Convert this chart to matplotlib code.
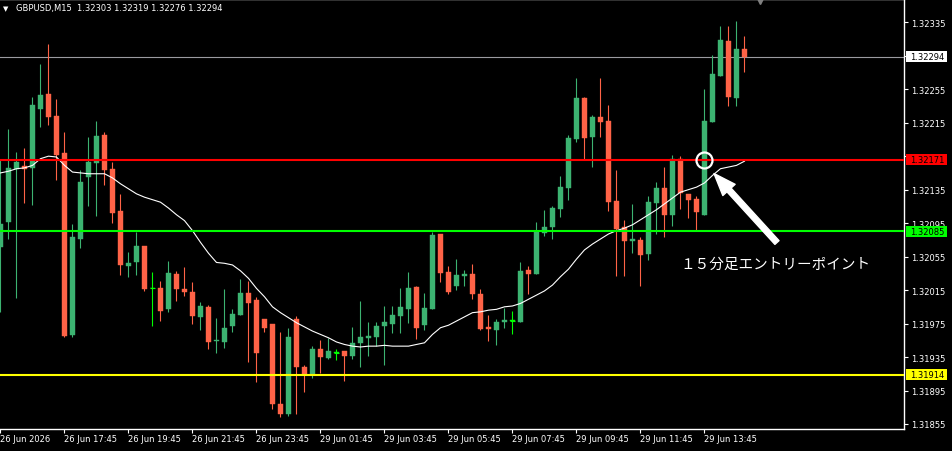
import numpy as np
import matplotlib
matplotlib.use("Agg")
import matplotlib.pyplot as plt
import matplotlib.transforms as mtransforms
from matplotlib.patches import Rectangle

plt.rcParams['font.family'] = ['DejaVu Sans', 'Noto Sans CJK JP']

# ---------------- data ----------------
symbol = "GBPUSD"
timeframe = "M15"

opens = [1.32066, 1.32096, 1.32160, 1.32163, 1.32161, 1.32231, 1.32249, 1.32223, 1.32179, 1.31961,
         1.32076, 1.32150, 1.32167, 1.32200, 1.32160, 1.32109, 1.32044, 1.32048, 1.32068, 1.32017,
         1.32017, 1.31992, 1.32034, 1.32016, 1.32013, 1.31983, 1.31995, 1.31954, 1.31953, 1.31972,
         1.31985, 1.32011, 1.32003, 1.31980, 1.31974, 1.31879, 1.31867, 1.31980, 1.31923, 1.31915,
         1.31945, 1.31934, 1.31940, 1.31942, 1.31936, 1.31952, 1.31958, 1.31959, 1.31972, 1.31974,
         1.31984, 1.31992, 1.32019, 1.31973, 1.31992, 1.32082, 1.32037, 1.32020, 1.32032, 1.32034,
         1.32010, 1.31971, 1.31967, 1.31977, 1.31978, 1.31977, 1.32039, 1.32034, 1.32083, 1.32090,
         1.32112, 1.32137, 1.32196, 1.32244, 1.32198, 1.32222, 1.32217, 1.32121, 1.32090, 1.32074,
         1.32075, 1.32058, 1.32119, 1.32137, 1.32105, 1.32172, 1.32130, 1.32124, 1.32105, 1.32216,
         1.32271, 1.32313, 1.32244, 1.32303]
highs = [1.32172, 1.32207, 1.32180, 1.32185, 1.32246, 1.32285, 1.32309, 1.32243, 1.32204, 1.32094,
         1.32158, 1.32198, 1.32217, 1.32204, 1.32168, 1.32130, 1.32060, 1.32084, 1.32068, 1.32037,
         1.32026, 1.32050, 1.32038, 1.32043, 1.32025, 1.32001, 1.31997, 1.31982, 1.32016, 1.31992,
         1.32028, 1.32026, 1.32007, 1.31980, 1.31974, 1.31965, 1.31970, 1.31984, 1.31925, 1.31948,
         1.31955, 1.31958, 1.31945, 1.31942, 1.31971, 1.32002, 1.31977, 1.31977, 1.31996, 1.31996,
         1.32017, 1.32037, 1.32020, 1.32011, 1.32084, 1.32082, 1.32044, 1.32052, 1.32039, 1.32046,
         1.32016, 1.31985, 1.31980, 1.31994, 1.31990, 1.32048, 1.32044, 1.32096, 1.32111, 1.32115,
         1.32151, 1.32200, 1.32268, 1.32246, 1.32224, 1.32268, 1.32236, 1.32158, 1.32099, 1.32118,
         1.32078, 1.32127, 1.32144, 1.32162, 1.32176, 1.32175, 1.32130, 1.32127, 1.32255, 1.32296,
         1.32331, 1.32331, 1.32337, 1.32319]
lows = [1.31989, 1.32076, 1.32005, 1.32119, 1.32117, 1.32210, 1.32212, 1.32146, 1.31959, 1.31959,
        1.32065, 1.32115, 1.32103, 1.32141, 1.32095, 1.32033, 1.32031, 1.32033, 1.32014, 1.31972,
        1.31978, 1.31989, 1.32002, 1.32008, 1.31974, 1.31967, 1.31945, 1.31940, 1.31946, 1.31965,
        1.31985, 1.31929, 1.31905, 1.31965, 1.31873, 1.31863, 1.31864, 1.31867, 1.31893, 1.31910,
        1.31916, 1.31933, 1.31931, 1.31906, 1.31933, 1.31923, 1.31936, 1.31948, 1.31925, 1.31964,
        1.31964, 1.31976, 1.31957, 1.31967, 1.31992, 1.32025, 1.32010, 1.32015, 1.32020, 1.32004,
        1.31967, 1.31954, 1.31949, 1.31970, 1.31962, 1.31977, 1.32010, 1.32034, 1.32080, 1.32076,
        1.32102, 1.32123, 1.32192, 1.32172, 1.32162, 1.32198, 1.32109, 1.32032, 1.32032, 1.32059,
        1.32020, 1.32051, 1.32082, 1.32078, 1.32092, 1.32112, 1.32101, 1.32087, 1.32105, 1.32216,
        1.32271, 1.32235, 1.32235, 1.32276]
closes = [1.32094, 1.32161, 1.32168, 1.32160, 1.32236, 1.32248, 1.32222, 1.32176, 1.31960, 1.32078,
          1.32144, 1.32168, 1.32199, 1.32158, 1.32107, 1.32045, 1.32047, 1.32068, 1.32016, 1.32017,
          1.31990, 1.32035, 1.32016, 1.32013, 1.31984, 1.31996, 1.31953, 1.31955, 1.31970, 1.31986,
          1.32011, 1.31999, 1.31940, 1.31970, 1.31879, 1.31867, 1.31959, 1.31923, 1.31915, 1.31945,
          1.31935, 1.31942, 1.31940, 1.31936, 1.31952, 1.31959, 1.31960, 1.31972, 1.31977, 1.31985,
          1.31995, 1.32017, 1.31970, 1.31994, 1.32081, 1.32035, 1.32013, 1.32033, 1.32034, 1.32010,
          1.31968, 1.31968, 1.31977, 1.31979, 1.31978, 1.32038, 1.32034, 1.32086, 1.32090, 1.32113,
          1.32138, 1.32197, 1.32244, 1.32197, 1.32222, 1.32216, 1.32120, 1.32088, 1.32074, 1.32076,
          1.32057, 1.32120, 1.32137, 1.32105, 1.32172, 1.32131, 1.32123, 1.32108, 1.32217, 1.32273,
          1.32314, 1.32246, 1.32303, 1.32294]
ma_values = [1.32155, 1.32157, 1.32160, 1.32161, 1.32164, 1.32172, 1.32175, 1.32174, 1.32164, 1.32156,
             1.32155, 1.32154, 1.32154, 1.32154, 1.32149, 1.32142, 1.32136, 1.32130, 1.32126, 1.32123,
             1.32120, 1.32113, 1.32105, 1.32098, 1.32086, 1.32072, 1.32059, 1.32048, 1.32047, 1.32045,
             1.32038, 1.32029, 1.32017, 1.32007, 1.31995, 1.31988, 1.31982, 1.31976, 1.31971, 1.31966,
             1.31962, 1.31958, 1.31953, 1.31950, 1.31948, 1.31947, 1.31948, 1.31948, 1.31949, 1.31948,
             1.31948, 1.31948, 1.31950, 1.31952, 1.31962, 1.31970, 1.31973, 1.31978, 1.31983, 1.31988,
             1.31989, 1.31991, 1.31992, 1.31995, 1.31996, 1.31999, 1.32004, 1.32009, 1.32014, 1.32021,
             1.32031, 1.32040, 1.32052, 1.32063, 1.32070, 1.32076, 1.32082, 1.32086, 1.32089, 1.32093,
             1.32099, 1.32105, 1.32111, 1.32118, 1.32125, 1.32132, 1.32135, 1.32138, 1.32143, 1.32152,
             1.32160, 1.32162, 1.32164, 1.32169]

time_labels = ["26 Jun 2026", "26 Jun 17:45", "26 Jun 19:45", "26 Jun 21:45", "26 Jun 23:45",
               "29 Jun 01:45", "29 Jun 03:45", "29 Jun 05:45", "29 Jun 07:45", "29 Jun 09:45",
               "29 Jun 11:45", "29 Jun 13:45"]
label_step = 8

price_ticks = [1.31855, 1.31895, 1.31935, 1.31975, 1.32015, 1.32055, 1.32095,
               1.32135, 1.32175, 1.32215, 1.32255, 1.32295, 1.32335]
hidden_ticks = [1.32175, 1.32295]

level_red = 1.32171
level_green = 1.32085
level_yellow = 1.31914
bid_price = closes[-1]

entry_index = 88
entry_price = level_red
annotation_text = "１５分足エントリーポイント"

# ---------------- figure ----------------
W, H = 953, 452
fig = plt.figure(figsize=(W / 100, H / 100), dpi=100, facecolor='black')
ax_left, ax_bottom, ax_w, ax_h = 0, 22, 904, 430
ax = fig.add_axes([ax_left / W, ax_bottom / H, ax_w / W, ax_h / H])
ax.set_facecolor('black')

n = len(opens)
x = np.arange(n)
o = np.array(opens); c = np.array(closes); hi = np.array(highs); lo = np.array(lows)

UP = '#3CB371'
DN = '#FF6347'
DOJI = '#00FF00'
cols = []
for oo, cc in zip(o, c):
    if abs(cc - oo) < 1e-9:
        cols.append(DOJI)
    elif cc > oo:
        cols.append(UP)
    else:
        cols.append(DN)

y_top = 1.323628
y_bot = 1.318490
ax.set_ylim(y_bot, y_top)
ax.set_xlim(-0.0625, 112.94)
px_price = (y_top - y_bot) / ax_h

# bid line (behind candles)
ax.axhline(bid_price, color='#9a9aa0', lw=0.8, zorder=1)

ax.vlines(x, lo, hi, colors=cols, linewidth=0.8, zorder=2)
body_bottom = np.minimum(o, c)
body_h = np.maximum(np.abs(c - o), px_price * 0.8)
ax.bar(x, body_h, bottom=body_bottom, width=0.62, color=cols, edgecolor=cols,
       linewidth=0.3, zorder=3)
doji_mask = np.array([cc == DOJI for cc in cols])
ax.hlines(o[doji_mask], x[doji_mask] - 0.31, x[doji_mask] + 0.31, colors=DOJI, lw=0.8, zorder=4)

# moving average
ax.plot(x, ma_values, color='white', lw=0.8, zorder=5)

# horizontal levels
ax.axhline(level_red, color='#FF0000', lw=1.5, zorder=6)
ax.axhline(level_green, color='#00FF00', lw=1.5, zorder=6)
ax.axhline(level_yellow, color='#FFFF00', lw=1.5, zorder=6)

# entry circle & arrow & text
ax.plot([entry_index], [entry_price], marker='o', markersize=11.5, mfc='none',
        mec='white', mew=1.6, zorder=8)
tip = (entry_index + 1.19, entry_price - 14 * px_price)
tail = (entry_index + 9.06, entry_price - 83 * px_price)
ax.annotate('', xy=tip, xytext=tail,
            arrowprops=dict(arrowstyle='simple,head_length=0.8,head_width=0.6,tail_width=0.2',
                            fc='white', ec='white', mutation_scale=20, shrinkA=0, shrinkB=0),
            zorder=9)
ax.text(entry_index - 3.06, entry_price - 104 * px_price, annotation_text, color='white',
        fontsize=10.5, family=['Noto Sans CJK JP', 'DejaVu Sans'], va='center', ha='left', zorder=9)

# axes styling
for s in ['right', 'bottom', 'top']:
    ax.spines[s].set_color('white')
    ax.spines[s].set_linewidth(1.0)
ax.spines['left'].set_visible(False)

ax.set_xticks(x[::label_step][:len(time_labels)])
ax.set_xticklabels(time_labels, ha='left')
ax.tick_params(axis='x', colors='white', labelcolor='white', labelsize=6, length=3,
               width=0.8, pad=0.8, direction='out')
ax.yaxis.tick_right()
ax.set_yticks(price_ticks)
ax.set_yticklabels(['' if any(abs(t - h) < 1e-9 for h in hidden_ticks) else f"{t:.5f}"
                    for t in price_ticks])
ax.tick_params(axis='y', colors='white', labelcolor='white', labelsize=6, length=3,
               width=0.8, pad=2.2, direction='out')

# price boxes on the right scale
blend = mtransforms.blended_transform_factory(ax.transAxes, ax.transData)
box_w = 41 / ax_w
box_h = 11 * px_price
for price, fc in [(bid_price, '#FFFFFF'), (level_red, '#FF0000'),
                  (level_green, '#00FF00'), (level_yellow, '#FFFF00')]:
    r = Rectangle((1 + 2 / ax_w, price - box_h / 2), box_w, box_h, transform=blend,
                  facecolor=fc, edgecolor='none', clip_on=False, zorder=20)
    ax.add_patch(r)
    ax.text(1 + 6 / ax_w, price, f"{price:.5f}", transform=blend, color='black',
            fontsize=6, va='center', ha='left', clip_on=False, zorder=21)

# header
fig.text(3 / W, 1 - 9.5 / H, '▼', color='white', fontsize=5, va='center', ha='left')
header = f"{symbol},{timeframe}  {opens[-1]:.5f} {highs[-1]:.5f} {lows[-1]:.5f} {closes[-1]:.5f}"
fig.text(16 / W, 1 - 9 / H, header, color='white', fontsize=6, va='center', ha='left')

# chart shift marker
ax.plot([0.8407], [1.0], marker='v', markersize=7, color='#808080', transform=ax.transAxes,
        clip_on=False, zorder=20)

fig.savefig('out.png', dpi=100, facecolor='black')
